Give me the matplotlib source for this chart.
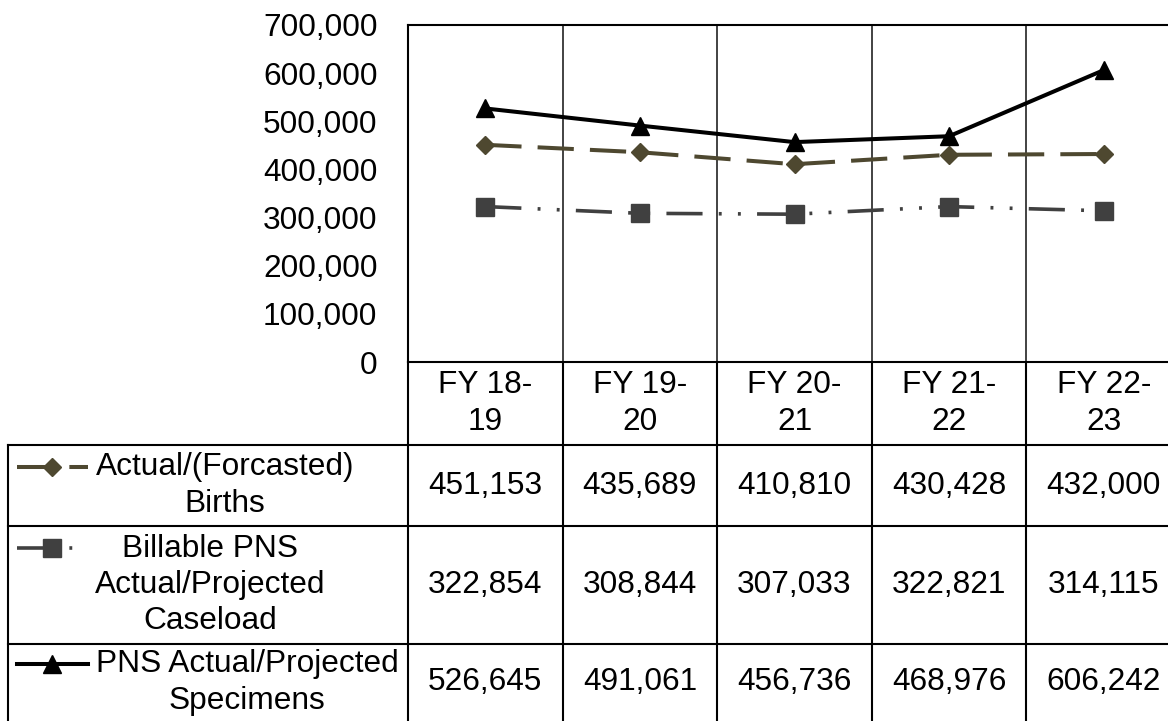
import matplotlib
matplotlib.use("Agg")
import matplotlib.pyplot as plt
from matplotlib.lines import Line2D
from matplotlib.ticker import FuncFormatter

plt.rcParams['font.family'] = ['Liberation Sans', 'DejaVu Sans']

categories = ["FY 18-\n19", "FY 19-\n20", "FY 20-\n21", "FY 21-\n22", "FY 22-\n23"]
births = [451153, 435689, 410810, 430428, 432000]
caseload = [322854, 308844, 307033, 322821, 314115]
specimens = [526645, 491061, 456736, 468976, 606242]
series_labels = ["Actual/(Forcasted)\nBirths",
                 "Billable PNS\nActual/Projected\nCaseload",
                 "PNS Actual/Projected\nSpecimens"]
yticks = [0, 100000, 200000, 300000, 400000, 500000, 600000, 700000]

W, H = 1168, 721
fig = plt.figure(figsize=(W / 100, H / 100), dpi=100)

# layout in pixels
px_left, px_right, px_top, px_bot = 408, 1181, 25, 362
tbl_left = 8
row_lines = [445, 526, 644, 725]
FS = 22.8
LS = 1.27

ax = fig.add_axes([px_left / W, 1 - px_bot / H, (px_right - px_left) / W, (px_bot - px_top) / H])
ax.set_xlim(-0.5, len(categories) - 0.5)
ax.set_ylim(0, 700000)
ax.set_yticks(yticks)
ax.yaxis.set_major_formatter(FuncFormatter(lambda v, p: f"{int(v):,}"))
ax.tick_params(axis='y', length=0, pad=22, labelsize=FS)
ax.set_xticks([])
for s in ax.spines.values():
    s.set_linewidth(1.5)
    s.set_color('black')
for b in range(len(categories) - 1):
    ax.axvline(b + 0.5, color='#222222', lw=1.2)

styles = [
    dict(color='#4E4830', lw=2.9, ls=(0, (9, 4)), marker='D', ms=8.7),
    dict(color='#404040', lw=2.6, ls=(0, (10, 4.5, 0.8, 4.5, 0.8, 4.5)), marker='s', ms=12.5),
    dict(color='black', lw=2.9, ls='-', marker='^', ms=13),
]
series = [births, caseload, specimens]
x = list(range(len(categories)))
for vals, st in zip(series, styles):
    ax.plot(x, vals, color=st['color'], lw=st['lw'], linestyle=st['ls'],
            marker=st['marker'], ms=st['ms'], markerfacecolor=st['color'],
            markeredgecolor=st['color'], clip_on=False)

# table overlay in pixel coordinates
tax = fig.add_axes([0, 0, 1, 1], zorder=-1)
tax.set_xlim(0, W)
tax.set_ylim(H, 0)
tax.axis('off')

col_w = (px_right - px_left) / len(categories)
col_edges = [px_left + i * col_w for i in range(len(categories) + 1)]
lw_t = 1.5
for ce in col_edges:
    tax.add_line(Line2D([ce, ce], [px_bot, H + 5], color='black', lw=lw_t))
tax.add_line(Line2D([tbl_left, tbl_left], [row_lines[0], H + 5], color='black', lw=lw_t))
for r in row_lines:
    tax.add_line(Line2D([tbl_left, W + 5], [r, r], color='black', lw=lw_t))

# header
for i, c in enumerate(categories):
    cx = (col_edges[i] + col_edges[i + 1]) / 2
    tax.text(cx, (px_bot + row_lines[0]) / 2, c, ha='center', va='center',
             fontsize=FS, linespacing=LS, multialignment='center')

label_cx = [225, 210, 247]
for r, (vals, st, lab) in enumerate(zip(series, styles, series_labels)):
    top, bot = row_lines[r], row_lines[r + 1]
    cy = (top + bot) / 2
    if r == 2:
        cy = (top + 721) / 2
    for i, v in enumerate(vals):
        cx = (col_edges[i] + col_edges[i + 1]) / 2
        tax.text(cx, cy, f"{v:,}", ha='center', va='center', fontsize=FS)
    tax.text(label_cx[r], cy, lab, ha='center', va='center', fontsize=FS,
             linespacing=LS, multialignment='center')
    nlines = lab.count("\n") + 1
    ky = cy - (nlines - 1) * 37 / 2
    tax.add_line(Line2D([17, 88], [ky, ky], color=st['color'], lw=st['lw'], linestyle=st['ls']))
    tax.add_line(Line2D([52], [ky], color=st['color'], marker=st['marker'], ms=st['ms'],
                        markerfacecolor=st['color'], markeredgecolor=st['color'], lw=0))

fig.savefig("out.png", dpi=100)
